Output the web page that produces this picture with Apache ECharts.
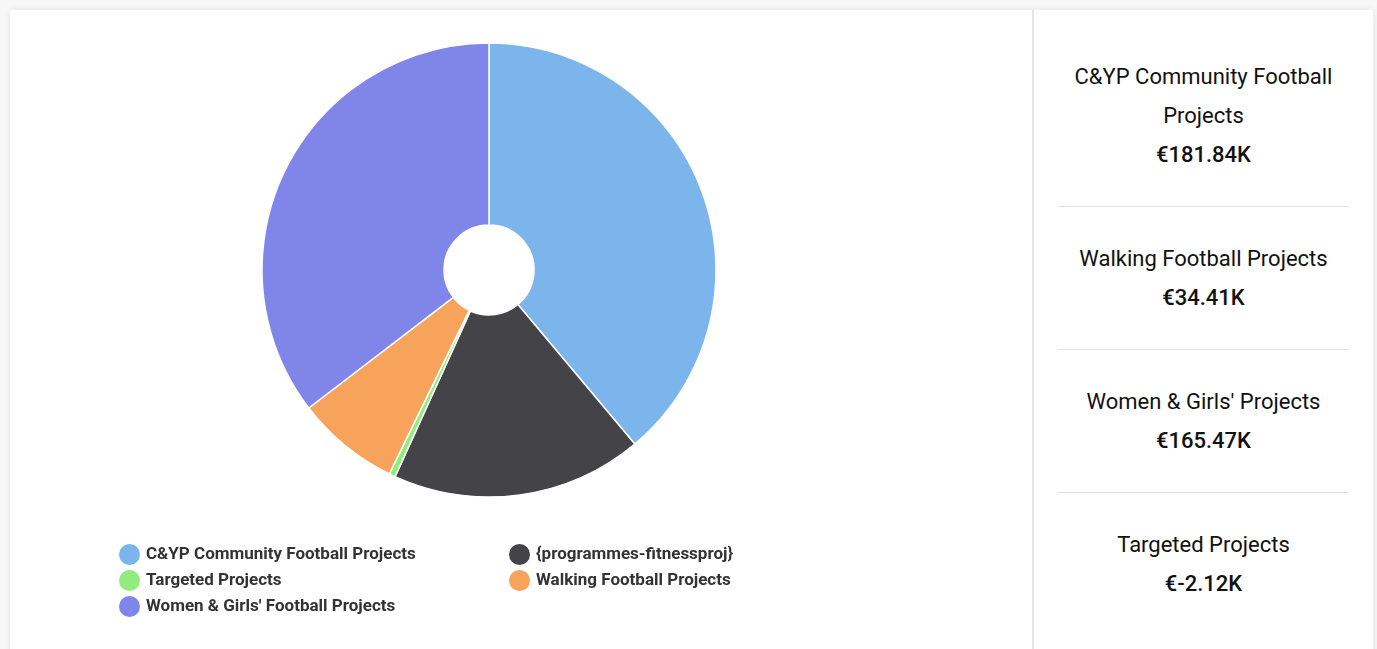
<!DOCTYPE html>
<html>
<head>
<meta charset="utf-8">
<script src="https://cdn.jsdelivr.net/npm/echarts@6/dist/echarts.min.js"></script>
<style>
  html, body { margin: 0; padding: 0; background: #f7f7f7; font-family: Roboto, sans-serif; }
  #card {
    position: absolute; left: 10px; top: 10px; width: 1364px; height: 660px;
    background: #fff; box-shadow: 0 0 8px rgba(0,0,0,0.08);
  }
  #pie-chart { position: absolute; left: 0; top: 0; width: 1022px; height: 639px; }
  #side {
    position: absolute; left: 1022px; top: 0; width: 342px; height: 660px;
    border-left: 2px solid #e1e5ea; border-right: 1px solid #eceef1;
    box-sizing: border-box; padding: 15px 24px 0 24px;
  }
  .block {
    padding: 32px 0; text-align: center; color: #111;
    font-size: 22px; line-height: 39px; border-bottom: 1px solid #dfe3e8;
  }
  .block:last-child { border-bottom: none; }
  .block .val { font-weight: 500; }
</style>
</head>
<body>
<div id="card">
  <div id="pie-chart"></div>
  <div id="side"></div>
</div>
<script>
// slice names, in drawing order
var names = [
  'C&YP Community Football Projects',
  '{programmes-fitnessproj}',
  'Targeted Projects',
  'Walking Football Projects',
  "Women & Girls' Football Projects"
];
// slice sizes (K€); Targeted is negative in source, drawn by its size
var values = [181.84, 83.6, 2.12, 34.41, 165.47];
var colors = ['#7cb5ec', '#434348', '#90ed7d', '#f7a35c', '#8085e9'];

// side panel
var sideTitles = ['C&YP Community Football Projects', 'Walking Football Projects', "Women & Girls' Projects", 'Targeted Projects'];
var sideValues = ['€181.84K', '€34.41K', '€165.47K', '€-2.12K'];

var side = document.getElementById('side');
sideTitles.forEach(function (t, i) {
  var b = document.createElement('div');
  b.className = 'block';
  var title = document.createElement('div');
  title.textContent = t;
  if (i === 0) title.style.padding = '0 10px';
  var v = document.createElement('div');
  v.className = 'val';
  v.textContent = sideValues[i];
  b.appendChild(title);
  b.appendChild(v);
  side.appendChild(b);
});

var chart = echarts.init(document.getElementById('pie-chart'));
var legendText = { fontFamily: 'Roboto', fontWeight: 'bold', fontSize: 17, color: '#333', lineHeight: 19 };
chart.setOption({
  color: colors,
  animation: false,
  legend: [
    {
      orient: 'vertical', left: 102, top: 527, itemWidth: 23, itemHeight: 23, itemGap: 1,
      icon: 'circle', data: [names[0], names[2], names[4]], textStyle: legendText
    },
    {
      orient: 'vertical', left: 492, top: 527, itemWidth: 23, itemHeight: 23, itemGap: 1,
      icon: 'circle', data: [names[1], names[3]], textStyle: legendText
    }
  ],
  series: [{
    type: 'pie',
    center: [479, 260],
    radius: [45, 227],
    startAngle: 90,
    clockwise: true,
    label: { show: false },
    labelLine: { show: false },
    itemStyle: { borderColor: '#fff', borderWidth: 1.5 },
    data: names.map(function (n, i) { return { name: n, value: values[i] }; })
  }]
});
</script>
</body>
</html>
